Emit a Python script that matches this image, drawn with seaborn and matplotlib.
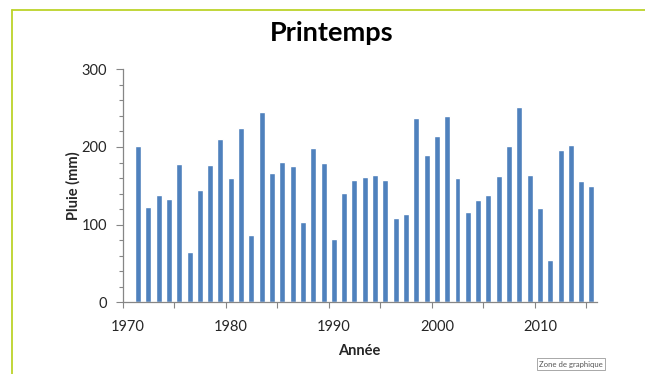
import matplotlib
matplotlib.use("Agg")
import matplotlib.pyplot as plt
from matplotlib.lines import Line2D
from matplotlib.ticker import FixedLocator
import pandas as pd
import seaborn as sns

# Spring rainfall per year (mm)
years = list(range(1971, 2016))
pluie = [201, 123, 138, 133, 178, 65, 145, 177,
         210, 160, 225, 87, 245, 166, 181, 176, 103,
         199, 180, 81, 141, 157, 161, 164, 158,
         109, 114, 237, 190, 214, 240, 160, 116, 132,
         138, 163, 201, 252, 164, 121, 55, 196, 203, 156, 150]
year_labels = [1970, 1980, 1990, 2000, 2010]
y_ticks = [0, 100, 200, 300]

df = pd.DataFrame({"Année": years, "Pluie": pluie})

sns.set_theme(style="white")
plt.rcParams["font.family"] = ["Lato", "DejaVu Sans"]

bar_color = "#4F81BD"
axis_color = "#868686"
text_color = "#262626"

fig = plt.figure(figsize=(6.45, 3.74), dpi=100)
ax = fig.add_axes([0.190, 0.1917, 0.735, 0.623])

sns.barplot(data=df, x="Année", y="Pluie", native_scale=True, color=bar_color,
            saturation=1, width=0.58, ax=ax, errorbar=None)

ax.set_xlim(1969.5, 2015.5)
ax.set_ylim(0, 300)

# labels centred on the decades, tick marks between year slots every 5 years
ax.xaxis.set_major_locator(FixedLocator(year_labels))
ax.set_xticklabels([str(y) for y in year_labels])
ax.xaxis.set_minor_locator(FixedLocator([1969.5 + 5 * k for k in range(10)]))
ax.tick_params(axis="x", which="major", length=0, pad=13, labelsize=10.5, colors=text_color)
ax.tick_params(axis="x", which="minor", bottom=True, length=4, width=0.8, color=axis_color)

ax.yaxis.set_major_locator(FixedLocator(y_ticks))
ax.set_yticklabels([str(v) for v in y_ticks])
ax.yaxis.set_minor_locator(FixedLocator(list(range(0, 301, 20))))
ax.tick_params(axis="y", which="major", left=True, length=5, width=0.8, color=axis_color,
               labelsize=10.5, pad=6)
ax.tick_params(axis="y", which="minor", left=True, length=3, width=0.8, color=axis_color)
ax.tick_params(axis="y", which="major", labelcolor=text_color)
ax.tick_params(axis="x", which="major", labelcolor=text_color)

for side in ("top", "right"):
    ax.spines[side].set_visible(False)
for side in ("left", "bottom"):
    ax.spines[side].set_color(axis_color)
    ax.spines[side].set_linewidth(0.9)

ax.set_xlabel("Année", fontsize=10.5, fontweight="bold", color=text_color, labelpad=7)
ax.set_ylabel("Pluie (mm)", fontsize=10.5, fontweight="bold", color=text_color, labelpad=1)

fig.text(0.514, 0.912, "Printemps", ha="center", va="center", fontsize=19.5,
         fontweight="bold", color="black")

# frame around the chart area
frame_color = "#BCD32A"
fig.add_artist(Line2D([12 / 645, 1.0], [1 - 10 / 374, 1 - 10 / 374],
                      transform=fig.transFigure, color=frame_color, lw=1.3))
fig.add_artist(Line2D([12 / 645, 12 / 645], [0.0, 1 - 10 / 374],
                      transform=fig.transFigure, color=frame_color, lw=1.3))

fig.text(571 / 645, 1 - 364 / 374, "Zone de graphique", ha="center", va="center",
         fontsize=5.6, color="#555555",
         bbox=dict(boxstyle="square,pad=0.3", fc="white", ec="#9a9a9a", lw=0.6))

fig.savefig("out.png", dpi=100)
